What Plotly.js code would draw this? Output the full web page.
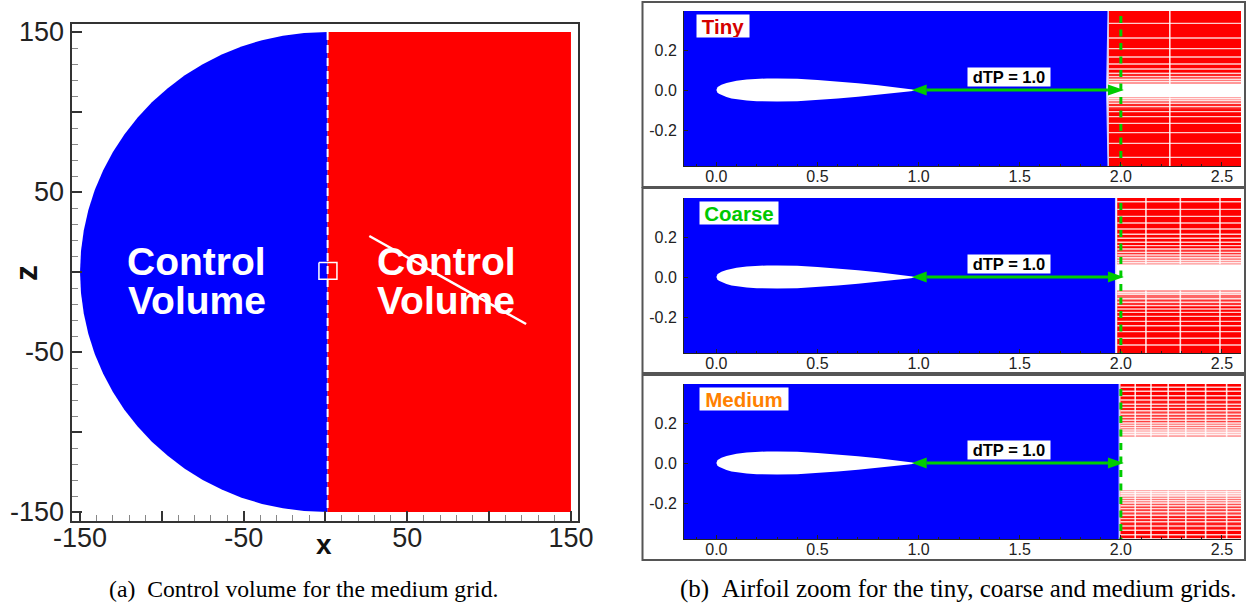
<!DOCTYPE html>
<html>
<head>
<meta charset="utf-8">
<script src="https://cdn.plot.ly/plotly-3.0.1.min.js"></script>
<style>html,body{margin:0;padding:0;background:#fff}#c{width:1248px;height:606px}</style>
</head>
<body>
<div id="c"></div>
<script>
// ---- Control volume (left panel) ----
const domeX = [1.3,-13.1,-26,-38.8,-51.3,-63.4,-75,-86,-96.4,-106.1,-114.9,-122.9,-129.9,-135.9,-141,-144.9,-147.7,-149.4,-150,-149.4,-147.7,-144.9,-141,-135.9,-129.9,-122.9,-114.9,-106.1,-96.4,-86,-75,-63.4,-51.3,-38.8,-26,-13.1,1.3];
const domeZ = [150,149.4,147.7,144.9,141,135.9,129.9,122.9,114.9,106.1,96.4,86,75,63.4,51.3,38.8,26,13.1,0,-13.1,-26,-38.8,-51.3,-63.4,-75,-86,-96.4,-106.1,-114.9,-122.9,-129.9,-135.9,-141,-144.9,-147.7,-149.4,-150];
const wakeX = [1.3,150,150,1.3,1.3];
const wakeZ = [150,150,-150,-150,150];
const seamX = [1.3,1.3];
const seamZ = [150,-150];
const boxX = [-4,7,7,-4,-4];
const boxZ = [6,6,-4.5,-4.5,6];
const slashX = [26.8,122.6];
const slashZ = [22.5,-32.5];
const bigTickVals = [-150,-100,-50,0,50,100,150];
const bigTickText = ['-150','','-50','','50','','150'];

// ---- Airfoil zoom panels ----
const foilTopX = [0,0.002,0.005,0.0125,0.025,0.05,0.075,0.1,0.15,0.2,0.25,0.3,0.4,0.5,0.6,0.7,0.8,0.9,0.95,1];
const foilTopY = [0,0.0079,0.0124,0.0189,0.0262,0.0356,0.042,0.0468,0.0528,0.0562,0.0578,0.058,0.056,0.05,0.043,0.034,0.024,0.013,0.007,0.0008];
const panelNames = ['Tiny','Coarse','Medium'];
const panelColors = ['#d40000','#00c800','#ff8000'];
const labelX = [0.032,0.11,0.136];
const labelW = [52,78,88];
const edgeOuter = [1.937,1.974,1.992];
const edgeInner = [1.93,1.974,1.992];
const redStart = [1.94,1.982,1.998];
const tinyRows = [0.333,0.26,0.207,0.165,0.13,0.105,0.083,0.067,0.053,0.043,-0.043,-0.053,-0.067,-0.083,-0.108,-0.133,-0.167,-0.213,-0.267,-0.337];
const coarseRows = [0.376,0.338,0.303,0.27,0.24,0.214,0.194,0.174,0.157,0.14,0.123,0.11,0.096,0.083,0.072,-0.078,-0.087,-0.109,-0.126,-0.143,-0.16,-0.177,-0.197,-0.222,-0.244,-0.273,-0.306,-0.34];
const mediumRows = [0.379,0.359,0.336,0.315,0.294,0.278,0.261,0.244,0.228,0.214,0.2,0.188,0.177,0.165,0.153,0.143,-0.143,-0.153,-0.165,-0.177,-0.188,-0.2,-0.214,-0.228,-0.244,-0.261,-0.278,-0.294,-0.315,-0.336,-0.359,-0.379];
const panelRows = [tinyRows,coarseRows,mediumRows];
const panelCols = [[2.242],[2.124,2.294,2.49],[2.071,2.149,2.234,2.321,2.419,2.523]];
const gapEdges = [[0.03,-0.037],[0.064,-0.067],[0.131,-0.138]];
const fadeDepths = [[0.015,0.03,0.06],[0.02,0.045,0.08],[0.03,0.07,0.13,0.19]];
const fadeAlphas = [[0.6,0.35,0.15],[0.6,0.4,0.2],[0.7,0.45,0.25,0.1]];
const arrowLeftX = [0.966,1.04,1.04,0.966];
const arrowRightX = [2.015,1.936,1.936,2.015];
const arrowY = [0,0.027,-0.027,0];
const shaftX = [1.04,1.936];
const shaftY = [0,0];
const gaugeX = [2,2];
const gaugeY = [0.37,-0.38];
const smallXTicks = [0,0.5,1,1.5,2,2.5];
const smallXText = ['0.0','0.5','1.0','1.5','2.0','2.5'];
const smallYTicks = [-0.2,0,0.2];
const smallYText = ['-0.2','0.0','0.2'];
const XMIN = -0.16, XMAX = 2.594, YMIN = -0.38, YMAX = 0.395;
const dtpText = 'dTP = 1.0';
const cvLines = ['Control','Volume'];

const W = 1248, H = 606;
const px = v => v / W, py = v => 1 - v / H;
const BLUE = '#0000ff', RED = '#ff0000', GREEN = '#00cc00';
const traces = [];
const poly = (x, y, color, xa, ya, shape) => traces.push({type:'scatter',mode:'lines',x,y,xaxis:xa,yaxis:ya,fill:'toself',fillcolor:color,line:{width:0,color,shape:shape||'linear'},hoverinfo:'skip',showlegend:false});
const stroke = (x, y, color, width, xa, ya, dash) => traces.push({type:'scatter',mode:'lines',x,y,xaxis:xa,yaxis:ya,line:{width,color,dash:dash||'solid'},hoverinfo:'skip',showlegend:false,connectgaps:false});

// left panel
poly(domeX, domeZ, BLUE, 'x', 'y');
poly(wakeX, wakeZ, RED, 'x', 'y');
stroke(seamX, seamZ, '#ffffff', 2, 'x', 'y', '8px,5px');
stroke(boxX, boxZ, '#ffffff', 1.5, 'x', 'y');
stroke(slashX, slashZ, '#ffffff', 2.5, 'x', 'y');

// right panels
const foilX = foilTopX.concat(foilTopX.slice().reverse());
const foilY = foilTopY.concat(foilTopY.slice().reverse().map(v => -v));
panelNames.forEach((name, i) => {
  const xa = 'x' + (i + 2), ya = 'y' + (i + 2);
  poly([XMIN,edgeOuter[i],edgeInner[i],edgeOuter[i],XMIN,XMIN],[YMAX,YMAX,0,YMIN,YMIN,YMAX],BLUE,xa,ya);
  poly(foilX, foilY, '#ffffff', xa, ya);
  const g = gapEdges[i], rs = redStart[i];
  poly([rs,XMAX,XMAX,rs,rs],[YMAX,YMAX,g[0],g[0],YMAX],RED,xa,ya);
  poly([rs,XMAX,XMAX,rs,rs],[g[1],g[1],YMIN,YMIN,g[1]],RED,xa,ya);
  const hx = [], hy = [];
  panelRows[i].forEach(r => { hx.push(rs,XMAX,null); hy.push(r,r,null); });
  stroke(hx, hy, 'rgba(255,255,255,0.8)', 1.4, xa, ya);
  fadeDepths[i].forEach((d, k) => {
    const a = 'rgba(255,255,255,' + fadeAlphas[i][k] + ')';
    const p = k ? fadeDepths[i][k-1] : 0;
    poly([rs,XMAX,XMAX,rs,rs],[g[0]+p,g[0]+p,g[0]+d,g[0]+d,g[0]+p],a,xa,ya);
    poly([rs,XMAX,XMAX,rs,rs],[g[1]-p,g[1]-p,g[1]-d,g[1]-d,g[1]-p],a,xa,ya);
  });
  const vx = [], vy = [];
  panelCols[i].forEach(c => { vx.push(c,c,null,c,c,null); vy.push(YMAX,g[0],null,g[1],YMIN,null); });
  stroke(vx, vy, 'rgba(255,255,255,0.85)', 1.6, xa, ya);
  stroke([edgeOuter[i],edgeInner[i],edgeOuter[i]],[YMAX,0,YMIN],'#ccccff',1.3,xa,ya);
  stroke(gaugeX, gaugeY, GREEN, 3, xa, ya, '7px,6.5px');
  stroke(shaftX, shaftY, GREEN, 3, xa, ya);
  poly(arrowLeftX, arrowY, GREEN, xa, ya);
  poly(arrowRightX, arrowY, GREEN, xa, ya);
});

const bigAxis = {showgrid:false,zeroline:false,showline:true,mirror:true,linecolor:'#333',linewidth:2,
  ticks:'inside',ticklen:10,tickwidth:2,tickcolor:'#333',tickmode:'array',tickvals:bigTickVals,ticktext:bigTickText,
  tickfont:{family:'Liberation Sans',size:27,color:'#222'},
  minor:{ticks:'inside',ticklen:6,tickwidth:1,tickcolor:'#888',tick0:-150,dtick:10,showgrid:false}};
const layout = {
  width:W,height:H,margin:{l:0,r:0,t:0,b:0},paper_bgcolor:'#fff',plot_bgcolor:'#fff',showlegend:false,
  xaxis:Object.assign({},bigAxis,{domain:[px(71.5),px(578)],range:[-155.2,154.3],anchor:'y',ticklabelstandoff:-8}),
  yaxis:Object.assign({},bigAxis,{domain:[py(521),py(24)],range:[-155.6,155],anchor:'x',ticklabelstandoff:0}),
  shapes:[],annotations:[]
};
const tops = [11,198,384], bottoms = [166,353,539];
const frames = [[2,187],[188,373],[375,560]];
panelNames.forEach((name, i) => {
  const n = i + 2;
  const common = {showgrid:false,zeroline:false,showline:true,linecolor:'#222',linewidth:1,ticks:'inside',ticklen:4,tickwidth:1,tickcolor:'#222',
    tickmode:'array',tickfont:{family:'Liberation Sans',size:16,color:'#222'}};
  layout['xaxis'+n] = Object.assign({},common,{domain:[px(684),px(1241)],range:[XMIN,XMAX],anchor:'y'+n,tickvals:smallXTicks,ticktext:smallXText,ticklabelstandoff:-4,
    minor:{ticks:'inside',ticklen:2,tickwidth:1,tickcolor:'#222',tick0:0,dtick:0.1,showgrid:false}});
  layout['yaxis'+n] = Object.assign({},common,{domain:[py(bottoms[i]),py(tops[i])],range:[YMIN,YMAX],anchor:'x'+n,tickvals:smallYTicks,ticktext:smallYText,ticklabelstandoff:3});
  layout.shapes.push({type:'rect',xref:'paper',yref:'paper',x0:px(642.5),x1:px(1245),y0:py(frames[i][1]),y1:py(frames[i][0]),line:{color:'#555',width:2},fillcolor:'rgba(0,0,0,0)',layer:'below'});
  layout.annotations.push({xref:'x'+n,yref:'y'+n,x:labelX[i],y:0.32,text:'<b>'+name+'</b>',showarrow:false,bgcolor:'#fff',borderpad:0,width:labelW[i],height:22,
    font:{family:'Liberation Sans',size:20.5,color:panelColors[i]}});
  layout.annotations.push({xref:'x'+n,yref:'y'+n,x:1.447,y:0.065,text:'<b>'+dtpText+'</b>',showarrow:false,bgcolor:'#fff',borderpad:0,width:82,height:18,
    font:{family:'Liberation Sans',size:16.5,color:'#000'}});
});
[-78.7,73.8].forEach(cx => {
  [[6.5,0],[-18,1]].forEach(([z,k]) => layout.annotations.push({xref:'x',yref:'y',x:cx,y:z,text:'<b>'+cvLines[k]+'</b>',showarrow:false,
    font:{family:'Liberation Sans',size:39,color:'#fff'}}));
});
const free = (x, y, text, font, extra) => layout.annotations.push(Object.assign({xref:'paper',yref:'paper',x:px(x),y:py(y),xanchor:'center',yanchor:'middle',text,showarrow:false,font},extra||{}));
free(324,544,'<b>x</b>',{family:'Liberation Sans',size:28,color:'#111'});
free(26,273,'<b>z</b>',{family:'Liberation Sans',size:32,color:'#111'},{textangle:-90});
free(303.5,589,'(a)\u00a0\u00a0Control volume for the medium grid.',{family:'Liberation Serif',size:23.7,color:'#000'});
free(958.5,589,'(b)\u00a0\u00a0Airfoil zoom for the tiny, coarse and medium grids.',{family:'Liberation Serif',size:25,color:'#000'});
Plotly.newPlot('c',traces,layout,{displayModeBar:false,responsive:false});
</script>
</body>
</html>
